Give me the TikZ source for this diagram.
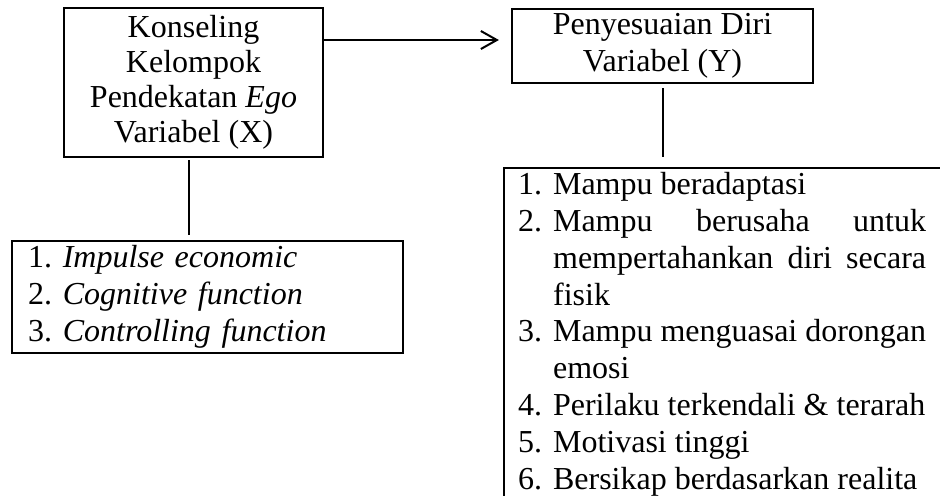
\documentclass[tikz,border=0pt]{standalone}
\usepackage{fontspec}
\setmainfont{Liberation Serif}
\usepackage{tikz}
\usetikzlibrary{arrows.meta,calc,positioning}
\tikzset{
  kotak/.style={
    draw=black,
    line width=1.1pt,
    align=center,
    inner sep=0pt,
    font=\fontsize{16}{17.5}\selectfont
  },
  daftar/.style={
    draw=black,
    line width=1.1pt,
    align=left,
    anchor=north west,
    inner xsep=8pt,
    inner ysep=2.2pt,
    font=\fontsize{16}{18.5}\selectfont
  },
  garis/.style={
    line width=1pt,
    black
  },
  panah/.style={
    -{Straight Barb[length=8pt,width=9pt,line width=1pt]},
    line width=1pt,
    black
  }
}

\begin{document}
\begin{tikzpicture}[x=0.5pt,y=-0.5pt]
\useasboundingbox (0,0) rectangle (940,495);
\node[kotak,minimum width=129.5pt,minimum height=74.5pt] (a) at (193.5,82.5)
  {Konseling\\Kelompok\\Pendekatan \textit{Ego}\\Variabel (X)};
\node[kotak,minimum width=150.5pt,minimum height=37pt,
  font=\fontsize{16}{18.5}\selectfont] (b) at (662.5,46)
  {Penyesuaian Diri\\Variabel (Y)};
\node[daftar,text width=179.5pt,minimum height=56pt] (c) at (11,240)
  {1.\ \textit{Impulse economic}\\
   2.\ \textit{Cognitive function}\\
   3.\ \textit{Controlling function}};
\node[daftar,inner xsep=7pt] (d) at (503,167)
  {\begin{minipage}{204pt}
   \fontsize{16}{18.4}\selectfont\parindent=0pt
   \hangindent=17.5pt\hangafter=1\makebox[17.5pt][l]{1.}Mampu beradaptasi\par
   \hangindent=17.5pt\hangafter=1\makebox[17.5pt][l]{2.}Mampu berusaha untuk\linebreak
     mempertahankan diri secara\linebreak fisik\par
   \hangindent=17.5pt\hangafter=1\makebox[17.5pt][l]{3.}Mampu menguasai dorongan\linebreak
     emosi\par
   \makebox[17.5pt][l]{4.}\mbox{Perilaku terkendali \& terarah}\par
   \makebox[17.5pt][l]{5.}Motivasi tinggi\par
   \makebox[17.5pt][l]{6.}\mbox{Bersikap berdasarkan realita}
   \end{minipage}\hspace{14pt}};
\coordinate (ay) at ([yshift=3pt]b.west);
\draw[panah,shorten >=6pt] (a.east |- ay) -- (ay);
\draw[garis,shorten <=1pt,shorten >=2.5pt] ([xshift=-2.5pt]a.south) -- ([xshift=-2.5pt]a.south |- c.north);
\draw[garis,shorten <=2pt,shorten >=5pt] (b.south) -- (b.south |- d.north);
\end{tikzpicture}
\end{document}
